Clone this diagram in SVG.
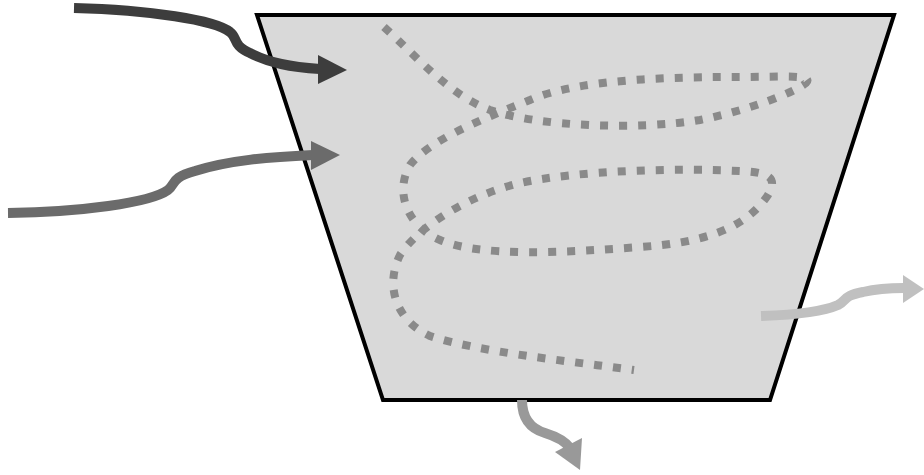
<svg xmlns="http://www.w3.org/2000/svg" width="924" height="475" viewBox="0 0 924 475">
  <style>
    .vessel { fill: #d9d9d9; stroke: #000; stroke-width: 4; stroke-linejoin: miter; }
    .flow { fill: none; stroke-width: 10; stroke-linecap: butt; }
    .track { fill: none; stroke: #8a8a8a; stroke-width: 8; stroke-dasharray: 8 11; }
  </style>
  <rect width="924" height="475" fill="#fff"/>

  <!-- container -->
  <g id="vessel">
    <polygon class="vessel" points="257,15 894,15 770,400 383,400"/>
  </g>

  <!-- meandering internal path -->
  <g id="track">
    <path class="track" d="M 384,27 C 420,60 450,95 490,110 C 540,127 640,130 700,120 C 750,110 795,92 806,83 C 815,74 780,77 740,77 C 680,77 580,78 530,100 C 480,120 430,140 410,165 C 395,190 405,225 440,240 C 480,257 560,253 640,247 C 700,243 745,230 768,195 C 778,178 770,172 740,171 C 680,168 580,170 520,183 C 470,195 420,225 400,255 C 385,285 395,320 430,336 C 480,352 560,360 634,370"/>
  </g>

  <!-- connectors -->
  <g id="connectors">
    <g id="inflow-1">
      <path class="flow" stroke="#3d3d3d" d="M 74,8 C 150,10 215,20 230,32 C 238,38 232,45 250,53 C 270,63 290,67 320,69"/>
      <polygon fill="#3d3d3d" points="318,55 347,70 318,84"/>
    </g>
    <g id="inflow-2">
      <path class="flow" stroke="#6b6b6b" d="M 8,213 C 80,212 150,203 168,190 C 176,184 170,178 195,171 C 230,160 270,157 313,155"/>
      <polygon fill="#6b6b6b" points="311,141 340,155 311,170"/>
    </g>
    <g id="outflow-side">
      <path class="flow" stroke="#c0c0c0" d="M 761,316 C 790,315 820,313 838,305 C 848,300 842,296 863,292 C 880,288 892,288 904,288"/>
      <polygon fill="#c0c0c0" points="903,275 924,289 903,303"/>
    </g>
    <g id="outflow-bottom">
      <path class="flow" stroke="#999" d="M 522,400 C 522,415 528,428 545,433 C 558,437 565,441 570,448"/>
      <polygon fill="#999" points="582,438 555,452 580,470"/>
    </g>
  </g>
</svg>
